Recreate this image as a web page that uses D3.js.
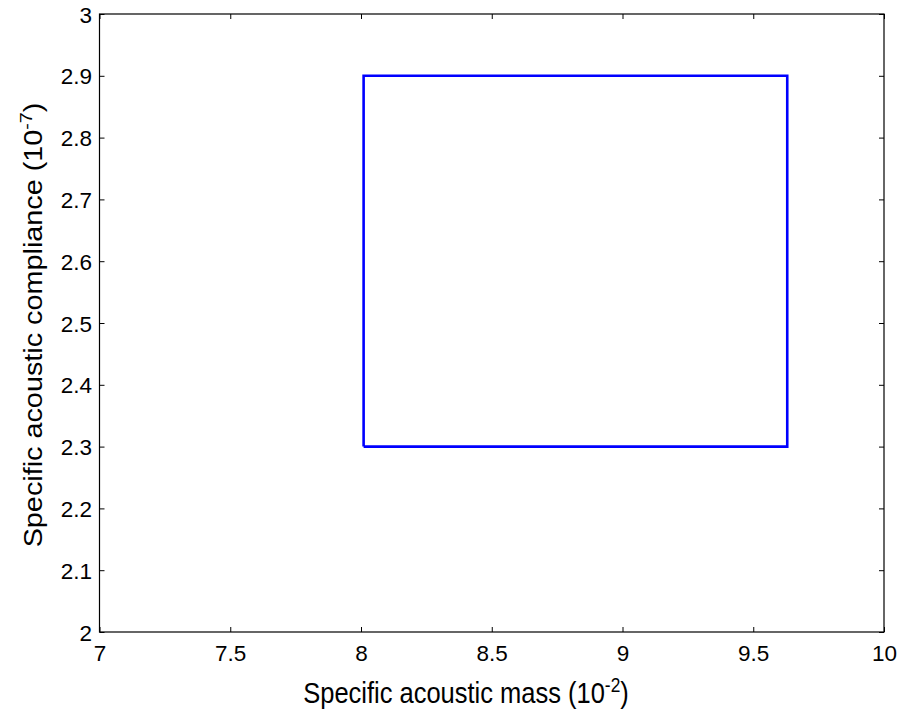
<!DOCTYPE html>
<html><head><meta charset="utf-8">
<script src="https://cdn.jsdelivr.net/npm/d3@7"></script>
<style>body{margin:0;background:#fff}svg{display:block}text{font-family:Arial,"Liberation Sans",sans-serif;fill:#000}</style>
</head><body>
<svg id="c" width="904" height="717"></svg>
<script>
const xValues = [8.01, 9.63, 9.63, 8.01, 8.01];
const yValues = [2.3, 2.3, 2.9, 2.9, 2.3];
const xTicks = [7, 7.5, 8, 8.5, 9, 9.5, 10];
const yTicks = [2, 2.1, 2.2, 2.3, 2.4, 2.5, 2.6, 2.7, 2.8, 2.9, 3];
const xDomain = [7, 10];
const yDomain = [2, 3];

const L = 99.5, R = 884, T = 14, B = 632;
const SY = 1.13;      // vertical stretch of label glyphs in the reference
const TSY = 1.0;
const tickFont = 22.5;
const labelFont = 25.5;
const svg = d3.select("#c");
const x = d3.scaleLinear().domain(xDomain).range([L, R]);
const y = d3.scaleLinear().domain(yDomain).range([B, T]);

const fmt = d => String(d);
const tl = 5;
const gb = svg.append("g").attr("transform", `translate(0,${B})`)
  .call(d3.axisBottom(x).tickValues(xTicks).tickFormat(fmt).tickSizeInner(-tl).tickSizeOuter(0));
const gt = svg.append("g").attr("transform", `translate(0,${T})`)
  .call(d3.axisTop(x).tickValues(xTicks).tickFormat("").tickSizeInner(-tl).tickSizeOuter(0));
const gl = svg.append("g").attr("transform", `translate(${L},0)`)
  .call(d3.axisLeft(y).tickValues(yTicks).tickFormat(fmt).tickSizeInner(-tl).tickSizeOuter(0));
const gr = svg.append("g").attr("transform", `translate(${R},0)`)
  .call(d3.axisRight(y).tickValues(yTicks).tickFormat("").tickSizeInner(-tl).tickSizeOuter(0));
[gb, gt, gl, gr].forEach(g => {
  g.select(".domain").remove();
  g.selectAll("line").attr("stroke", "#000").attr("stroke-width", 1);
  g.selectAll("text").attr("font-size", tickFont).attr("font-family", "Arial, 'Liberation Sans', sans-serif").attr("fill", "#000");
});
gb.selectAll(".tick text").attr("y", null).attr("dy", null)
  .attr("transform", `translate(0,${13 + 0.716 * tickFont * TSY}) scale(1,${TSY})`);
gl.selectAll(".tick text").attr("x", null).attr("dy", null)
  .attr("transform", `translate(-7.5,${0.358 * tickFont * TSY}) scale(1,${TSY})`);

svg.append("rect").attr("x", L).attr("y", T).attr("width", R - L).attr("height", B - T)
  .attr("fill", "none").attr("stroke", "#000").attr("stroke-width", 1.2);

const pts = xValues.map((v, i) => [v, yValues[i]]);
svg.append("path").datum(pts)
  .attr("d", d3.line().x(d => x(d[0])).y(d => y(d[1])))
  .attr("fill", "none").attr("stroke", "#0000ff").attr("stroke-width", 2.6)
  .attr("stroke-linejoin", "miter");

const xl = svg.append("text").attr("transform", `translate(466,703) scale(1,${SY})`)
  .attr("text-anchor", "middle").attr("font-size", labelFont);
xl.append("tspan").text("Specific acoustic mass (10");
xl.append("tspan").text("-2").attr("font-size", labelFont * 0.68).attr("dy", -10);
xl.append("tspan").text(")").attr("dy", 10);

const yl = svg.append("text").attr("transform", `translate(42,325) rotate(-90) scale(${SY},1)`)
  .attr("text-anchor", "middle").attr("font-size", labelFont);
yl.append("tspan").text("Specific acoustic compliance (10");
yl.append("tspan").text("-7").attr("font-size", labelFont * 0.68).attr("dy", -10);
yl.append("tspan").text(")").attr("dy", 10);
</script>
</body></html>
